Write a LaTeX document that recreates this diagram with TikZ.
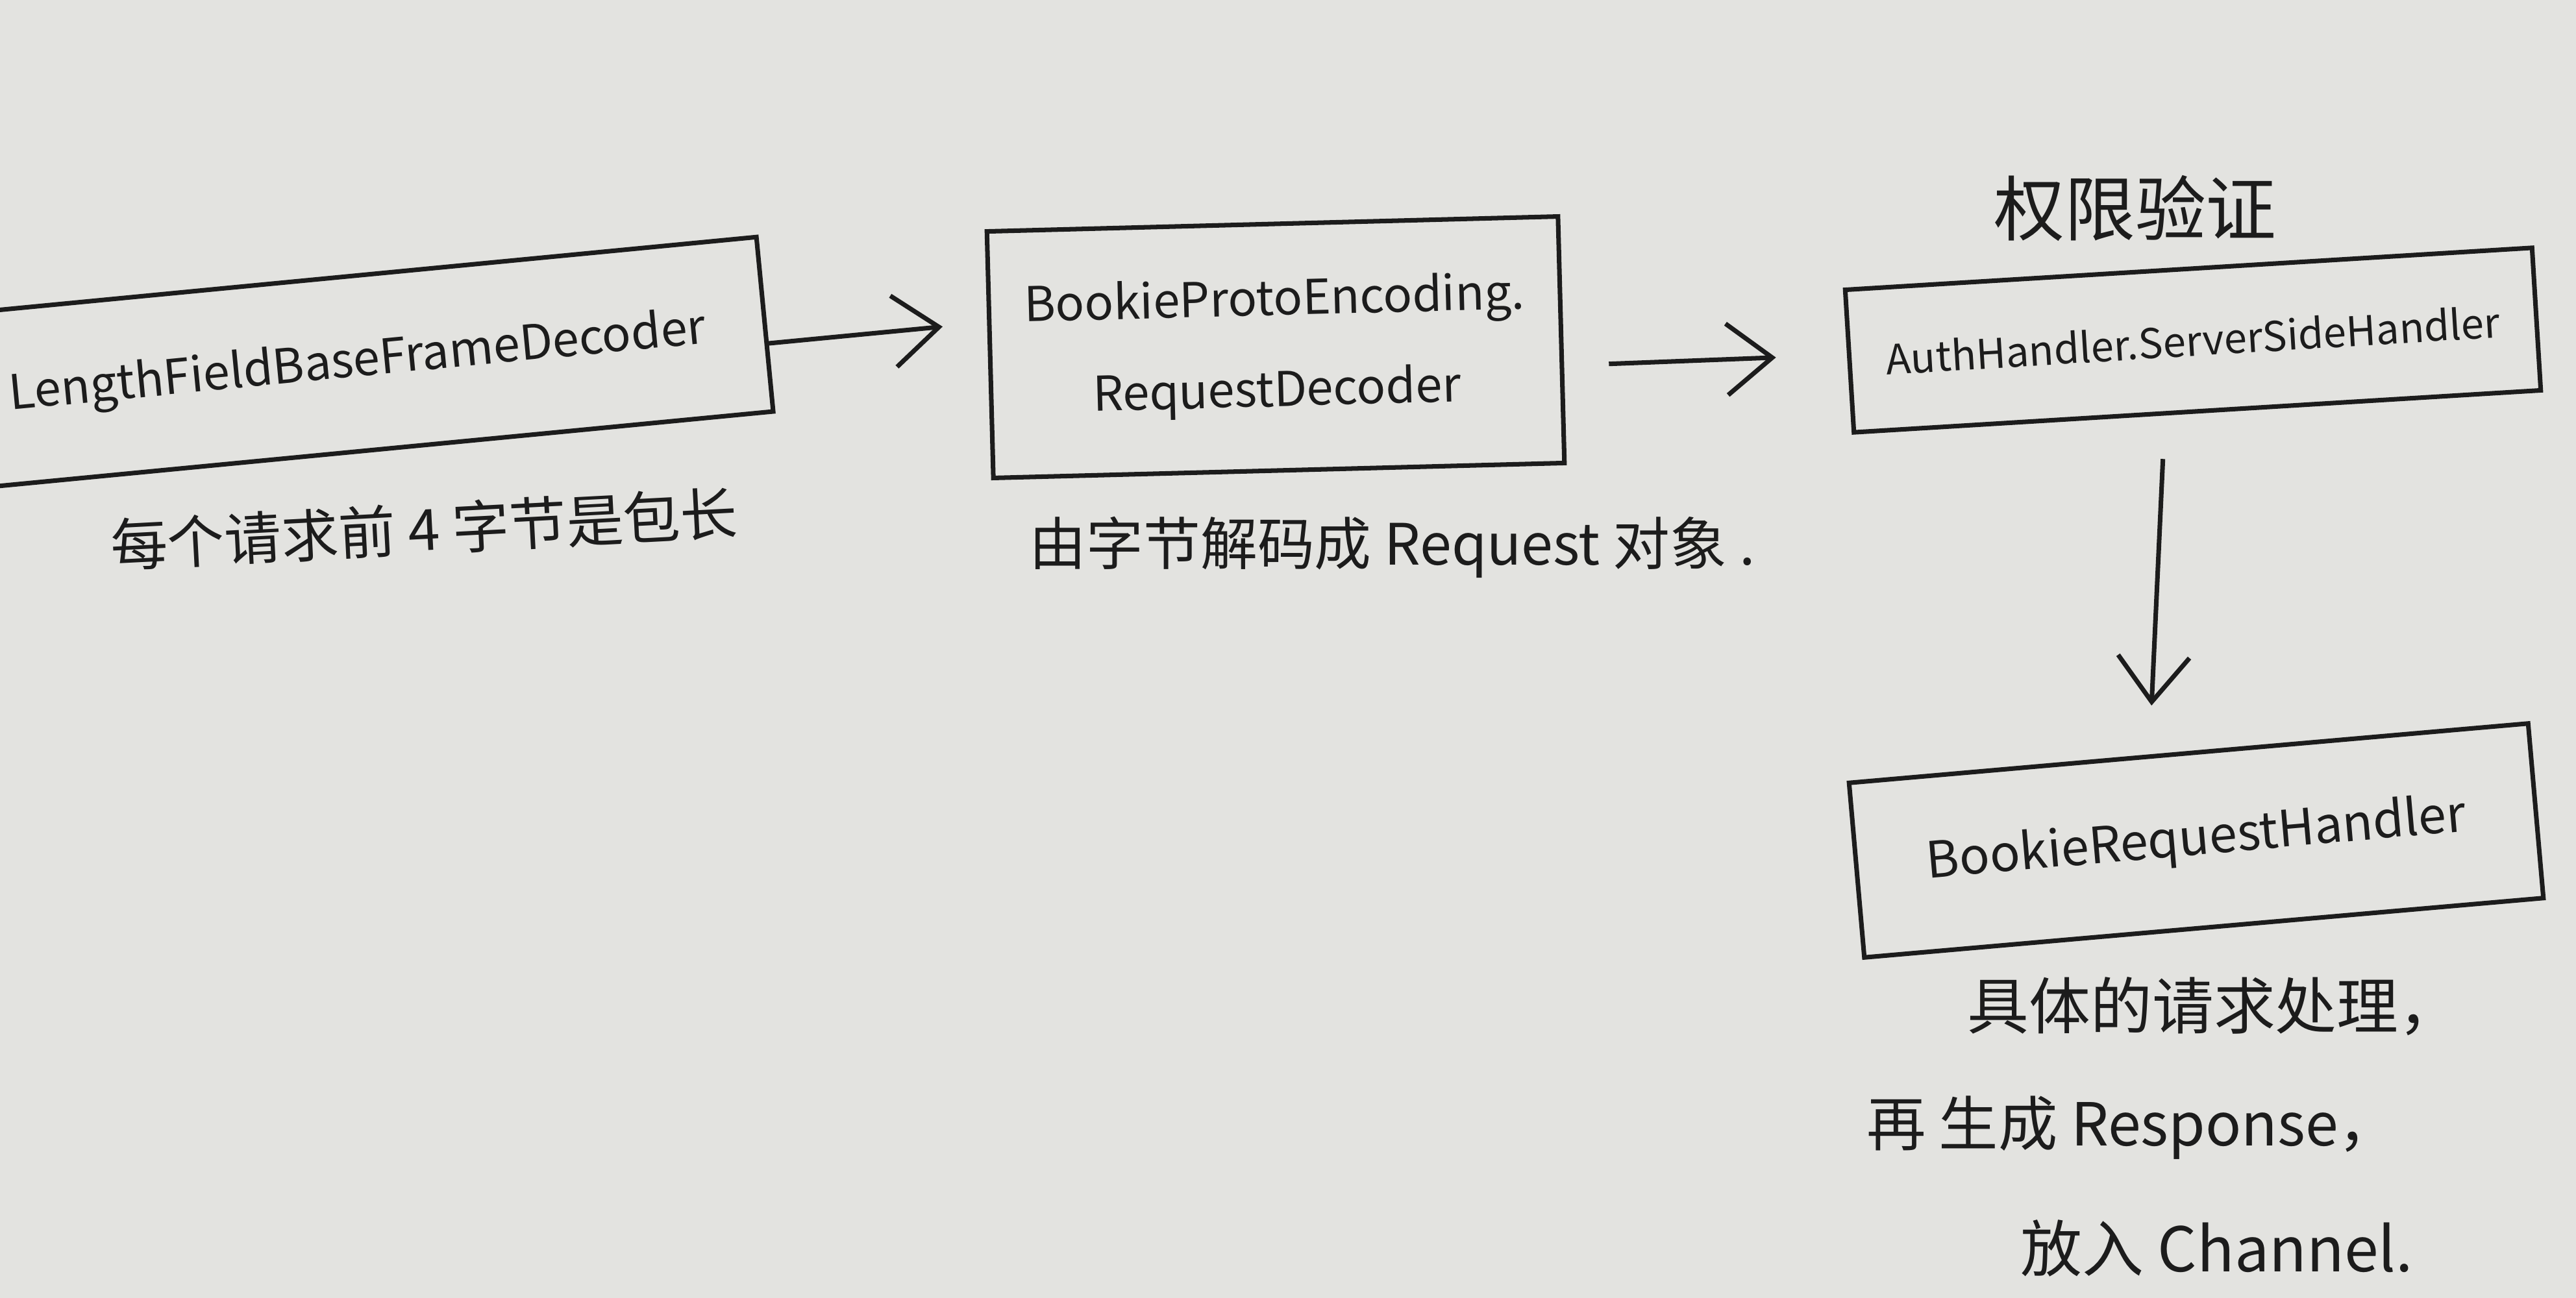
\documentclass[tikz,border=0pt]{standalone}
\usepackage{fontspec}
\setmainfont{Noto Sans CJK SC}
\usetikzlibrary{arrows.meta}
\definecolor{paper}{RGB}{227,227,224}
\definecolor{ink}{RGB}{28,28,28}

\begin{document}
\begin{tikzpicture}[>={Straight Barb[length=7mm,width=11mm]}, line width=2pt, color=ink]
        \useasboundingbox (0,0) rectangle (39.68,-20);
        \fill[paper] (0,0) rectangle (39.68,-20);
        \clip (0,0) rectangle (39.68,-20);

        % the four handlers of the pipeline
        \begin{scope}
            \tikzstyle{every node}=[draw,rectangle,align=center,font=\fontsize{21}{40}\selectfont, minimum height=2.7cm]

            \node[rotate=5.5, minimum width=12.6cm] (frame) at (5.51,-5.60) {LengthFieldBaseFrameDecoder};
            \node[rotate=1.5, minimum width=8.8cm, minimum height=3.8cm] (proto) at (19.65,-5.35) {BookieProtoEncoding.\\RequestDecoder};
            \node[rotate=3.5, minimum width=10.6cm, minimum height=2.2cm, font=\fontsize{18}{22}\selectfont] (auth) at (33.78,-5.24) {AuthHandler.ServerSideHandler};
            \node[rotate=5, minimum width=10.5cm, font=\fontsize{22}{26}\selectfont] (handler) at (33.83,-12.95) {BookieRequestHandler};
        \end{scope}

        \draw[->, shorten >=7mm] ([yshift=-3mm]frame.east) -- ([yshift=5mm]proto.west);
        \draw[->, shorten <=7mm, shorten >=11mm] ([yshift=-4mm]proto.east) -- ([yshift=1mm]auth.west);
        \draw[->, shorten <=7mm, shorten >=7mm] ([xshift=-5mm]auth.south) -- ([xshift=-6mm]handler.north);

        % notes
        \begin{scope}
            \tikzstyle{every node}=[font=\fontsize{25}{30}\selectfont]

            \node[rotate=3] (lenlabel) at (6.53,-8.15) {每个请求前 4 字节是包长};
            \node (decodelabel) at (21.45,-8.43) {由字节解码成 Request 对象 .};
            \node[font=\fontsize{31}{34}\selectfont] (authlabel) at (32.89,-3.21) {权限验证};
            \node[font=\fontsize{27}{30}\selectfont] (worklabel) at (34.10,-15.51) {具体的请求处理，};
            \node[font=\fontsize{26}{30}\selectfont] (resplabel) at (32.84,-17.38) {再 生成 Response，};
            \node[font=\fontsize{27}{30}\selectfont] (chanlabel) at (34.15,-19.23) {放入 Channel.};
        \end{scope}

    \end{tikzpicture}
\end{document}
